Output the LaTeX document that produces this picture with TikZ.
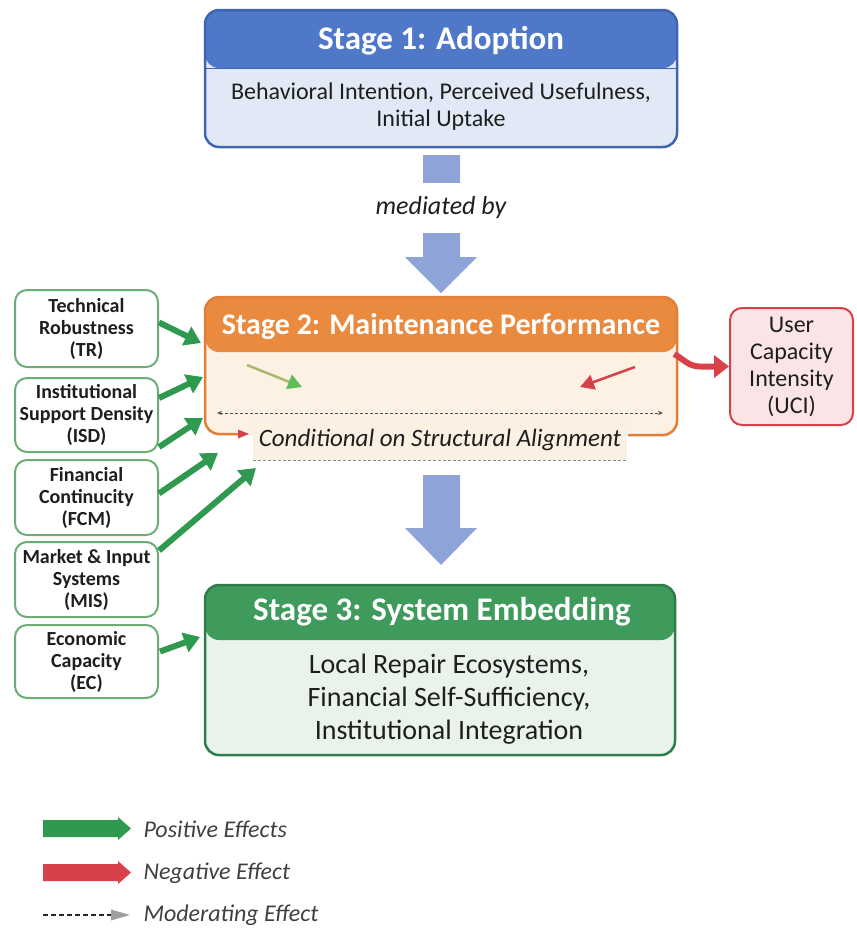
\documentclass[tikz,border=0pt]{standalone}
\usepackage{fontspec}
\setmainfont{Carlito}
\usetikzlibrary{arrows.meta}
\definecolor{sahead}{HTML}{5078C8}
\definecolor{sabody}{HTML}{E2E9F6}
\definecolor{saborder}{HTML}{3E66B0}
\definecolor{sbhead}{HTML}{E98A3E}
\definecolor{sbbody}{HTML}{FDF1E4}
\definecolor{sbborder}{HTML}{E27E36}
\definecolor{schead}{HTML}{3F9B5C}
\definecolor{scbody}{HTML}{E9F2EB}
\definecolor{scborder}{HTML}{2E7D4A}
\definecolor{barrow}{HTML}{8EA4D8}
\definecolor{pgreen}{HTML}{2F9A4F}
\definecolor{lgreen}{HTML}{6CAE76}
\definecolor{pred}{HTML}{D9414A}
\definecolor{upink}{HTML}{FBE4E6}
\definecolor{condbg}{HTML}{FBF1E2}
\definecolor{txt}{HTML}{1E1E1E}
\definecolor{smallgreen}{HTML}{5CBF5C}
\definecolor{smallline}{HTML}{A9B86E}
\begin{document}
\begin{tikzpicture}[x=1pt,y=-1pt,
  stagebox/.style={rectangle, rounded corners=14pt, line width=2.5pt, inner sep=0pt},
  titletext/.style={text=white, font=\fontsize{33}{38}\selectfont\bfseries},
  bodytext/.style={text=txt, align=center},
  leftbox/.style={draw=lgreen, line width=2pt, fill=white, rounded corners=12pt,
    minimum width=143pt, align=center, inner sep=0pt, text=txt,
    font=\fontsize{20}{22}\selectfont\bfseries},
  posarrow/.style={draw=pgreen, line width=6pt, -{Triangle[length=16pt,width=20pt]}},
  legtext/.style={anchor=west, text=txt!85, font=\fontsize{24}{28}\selectfont\itshape}
]
\useasboundingbox (0,0) rectangle (857,930);

% ---------- Stage 1 ----------
\node[stagebox, draw=saborder, fill=sabody, minimum width=472pt, minimum height=137pt,
  path picture={\fill[sahead] (path picture bounding box.north west) rectangle ([yshift=-58pt]path picture bounding box.north east);
  \draw[saborder, line width=1pt] ([yshift=-58pt]path picture bounding box.north west) -- ([yshift=-58pt]path picture bounding box.north east);}]
  (s1) at (441,78.5) {};
\node[titletext] (s1t) at (441,41) {Stage 1: Adoption};
\node[bodytext, font=\fontsize{24}{27}\selectfont] (s1b) at (441,107) {Behavioral Intention, Perceived Usefulness,\\Initial Uptake};

% ---------- mediated arrow ----------
\fill[barrow] (423,155) -- (460,155) -- (460,257) -- (477,257) -- (441,293) -- (405,257) -- (423,257) -- cycle;
\node[fill=white, minimum height=50pt, inner xsep=4pt, inner ysep=0pt, text=txt,
  font=\fontsize{26}{30}\selectfont\itshape] (med) at (441,208) {mediated by};

% ---------- Stage 2 ----------
\node[stagebox, fill=sbbody, minimum width=472pt, minimum height=138pt,
  path picture={\fill[sbhead] (path picture bounding box.north west) rectangle ([yshift=-55pt]path picture bounding box.north east);}]
  (s2) at (441,366) {};
\draw[sbborder, line width=2.5pt, rounded corners=14pt]
  (628,435) -- (677,435) -- (677,297) -- (205,297) -- (205,434) -- (240,434);
\fill[pred] (238,429.5) -- (249,434) -- (238,438.5) -- cycle;
\node[titletext, font=\fontsize{30}{34}\selectfont\bfseries] (s2t) at (441,327) {Stage 2: Maintenance Performance};

% small inner arrows
\draw[smallline, line width=2.5pt, -{Triangle[length=14pt,width=15pt,color=smallgreen]}] (247,365) -- (302,387);
\draw[pred, line width=2.5pt, -{Triangle[length=14pt,width=15pt]}] (635,367) -- (580,387);

% moderating dashed line
\draw[densely dashed, black!70, line width=0.8pt, {Stealth[length=5pt,width=4pt]}-{Stealth[length=5pt,width=4pt]}] (217,413) -- (663,413);

% conditional label
\node[fill=condbg, minimum width=374pt, minimum height=40pt, inner sep=0pt, text=txt,
  font=\fontsize{25}{28}\selectfont\itshape] (cond) at (440,440) {Conditional on Structural Alignment};
\draw[densely dashed, black!45, line width=0.7pt] (cond.south west) -- (cond.south east);

% ---------- UCI ----------
\node[draw=pred, fill=upink, line width=2pt, rounded corners=12pt, minimum width=123pt,
  minimum height=117pt, align=center, inner sep=0pt, text=txt,
  font=\fontsize{24}{27}\selectfont] (uci) at (791.5,366.5) {User\\Capacity\\Intensity\\(UCI)};
\draw[pred, line width=6pt, -{Triangle[length=15pt,width=22pt]}]
  ([xshift=-4pt,yshift=12pt]s2.east) to[out=-30,in=180] (700,366.5) -- (uci.west);

% ---------- second blue arrow ----------
\fill[barrow] (423,475) -- (460,475) -- (460,528) -- (477,528) -- (441,565) -- (405,528) -- (423,528) -- cycle;

% ---------- Stage 3 ----------
\node[stagebox, draw=scborder, fill=scbody, minimum width=470pt, minimum height=170pt,
  path picture={\fill[schead] (path picture bounding box.north west) rectangle ([yshift=-55pt]path picture bounding box.north east);}]
  (s3) at (440,670) {};
\node[titletext] (s3t) at (442,612) {Stage 3: System Embedding};
\node[bodytext, font=\fontsize{28}{33}\selectfont] (s3b) at (449,699) {Local Repair Ecosystems,\\Financial Self-Sufficiency,\\Institutional Integration};

% ---------- left factor boxes ----------
\node[leftbox, minimum height=77pt] (tr) at (86.5,328.5) {Technical\\Robustness\\(TR)};
\node[leftbox, minimum height=74pt] (isd) at (86.5,415) {Institutional\\Support Density\\(ISD)};
\node[leftbox, minimum height=75pt] (fcm) at (86.5,497.5) {Financial\\Continucity\\(FCM)};
\node[leftbox, minimum height=75pt] (mis) at (86.5,579.5) {Market \& Input\\Systems\\(MIS)};
\node[leftbox, minimum height=73pt] (ec) at (86.5,661.5) {Economic\\Capacity\\(EC)};

% arrow targets
\coordinate (ttr) at (201,343);
\coordinate (tisda) at (203,377);
\coordinate (tisdb) at (203,418);
\coordinate (tfcm) at (218,453);
\coordinate (tmis) at (256,468);
\coordinate (tec) at (200,637);

\draw[posarrow] ([yshift=6pt]tr.east) -- (ttr);
\draw[posarrow] ([yshift=17pt]isd.east) -- (tisda);
\draw[posarrow] ([yshift=-32pt]isd.east) -- (tisdb);
\draw[posarrow] ([yshift=4pt]fcm.east) -- (tfcm);
\draw[posarrow] ([yshift=29pt]mis.east) -- (tmis);
\draw[posarrow] ([xshift=1pt,yshift=10pt]ec.east) -- (tec);

% ---------- legend ----------
\fill[pgreen] (43,820) -- (118,820) -- (118,817) -- (131,828.5) -- (118,840) -- (118,837) -- (43,837) -- cycle;
\node[legtext] (lpos) at (140,829) {Positive Effects};
\fill[pred] (43,864) -- (118,864) -- (118,861) -- (131,872.5) -- (118,884) -- (118,881) -- (43,881) -- cycle;
\node[legtext] (lneg) at (140,873) {Negative Effect};
\draw[black!85, dashed, line width=1.2pt, dash pattern=on 5pt off 3pt] (43,915) -- (113,915);
\fill[gray!75] (111,909.5) -- (130,915) -- (111,920.5) -- cycle;
\node[legtext] (lmod) at (140,915) {Moderating Effect};
\end{tikzpicture}
\end{document}
